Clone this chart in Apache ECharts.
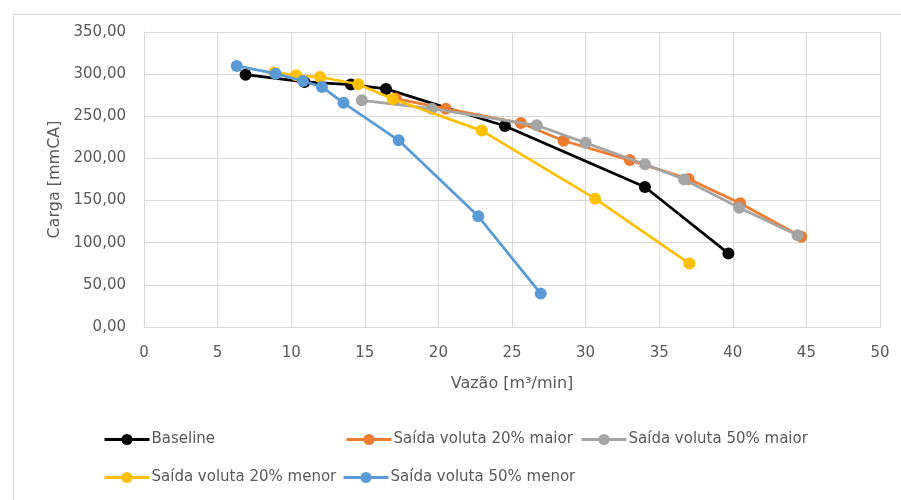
<!DOCTYPE html>
<html>
<head>
<meta charset="utf-8">
<script src="https://cdn.jsdelivr.net/npm/echarts@6/dist/echarts.min.js"></script>
<style>
  html, body { margin: 0; padding: 0; background: #ffffff; }
  #chart { width: 901px; height: 500px; }
</style>
</head>
<body>
<div id="chart"></div>
<script>
// Curvas de carga x vazão para as variantes da voluta ([vazão m³/min, carga mmCA])
const seriesNames = [
  'Baseline',
  'Saída voluta 20% maior',
  'Saída voluta 50% maior',
  'Saída voluta 20% menor',
  'Saída voluta 50% menor'
];
const baseline = [[6.9, 299.4], [10.9, 290.7], [14.06, 287.6], [16.44, 282.5], [24.52, 238.5], [34.03, 166.1], [39.7, 87.3]];
const voluta20Maior = [[17.1, 271.0], [20.5, 259.0], [25.6, 242.0], [28.5, 221.0], [33.0, 198.0], [37.0, 175.5], [40.5, 146.8], [44.65, 107.0]];
const voluta50Maior = [[14.8, 269.0], [19.55, 259.0], [26.68, 239.3], [30.0, 218.5], [34.03, 193.0], [36.7, 175.0], [40.44, 141.5], [44.4, 108.8]];
const voluta20Menor = [[8.85, 302.0], [10.33, 298.6], [11.96, 296.6], [14.56, 288.0], [16.9, 270.5], [22.94, 233.0], [30.64, 152.3], [37.05, 75.2]];
const voluta50Menor = [[6.3, 309.7], [8.94, 300.6], [10.8, 291.9], [12.09, 284.8], [13.55, 266.0], [17.3, 221.5], [22.71, 131.3], [26.95, 39.6]];

const seriesData = [baseline, voluta20Maior, voluta50Maior, voluta20Menor, voluta50Menor];
const seriesColors = ['#000000', '#ED7D31', '#A5A5A5', '#FFC000', '#5B9BD5'];

const xTicks = { min: 0, max: 50, interval: 5 };
const yTicks = { min: 0, max: 350, interval: 50 };

const fontFamily = '"DejaVu Sans", sans-serif';
const textColor = '#595959';
const gridColor = '#d9d9d9';

const chart = echarts.init(document.getElementById('chart'), null, { renderer: 'canvas' });

// one legend block per entry so each sits in its own column
const legendSlots = [
  { left: 103, top: 432 },
  { left: 345, top: 432 },
  { left: 580, top: 432 },
  { left: 103, top: 470 },
  { left: 342, top: 470 }
];

const option = {
  backgroundColor: '#ffffff',
  animation: false,
  graphic: [{
    type: 'rect',
    left: 11, top: 12,
    shape: { width: 900, height: 500 },
    style: { fill: 'none', stroke: gridColor, lineWidth: 1 },
    silent: true
  }],
  grid: { left: 144, right: 21, top: 32, bottom: 173, containLabel: false },
  legend: legendSlots.map((slot, i) => ({
    data: [seriesNames[i]],
    left: slot.left,
    top: slot.top,
    itemWidth: 45,
    itemHeight: 14,
    itemGap: 0,
    padding: 0,
    lineStyle: { width: 3 },
    textStyle: { fontFamily: fontFamily, fontSize: 15, color: textColor, padding: [0, 0, 0, -3] }
  })),
  xAxis: {
    type: 'value',
    min: xTicks.min, max: xTicks.max, interval: xTicks.interval,
    name: 'Vazão [m³/min]',
    nameLocation: 'middle',
    nameGap: 49,
    nameTextStyle: { fontFamily: fontFamily, fontSize: 16, color: textColor },
    axisLine: { show: true, lineStyle: { color: gridColor, width: 1 } },
    axisTick: { show: false },
    axisLabel: { fontFamily: fontFamily, fontSize: 15, color: textColor, margin: 19 },
    splitLine: { show: true, lineStyle: { color: gridColor, width: 1 } }
  },
  yAxis: {
    type: 'value',
    min: yTicks.min, max: yTicks.max, interval: yTicks.interval,
    name: 'Carga [mmCA]',
    nameLocation: 'middle',
    nameGap: 80,
    nameRotate: 90,
    nameTextStyle: { fontFamily: fontFamily, fontSize: 16, color: textColor },
    axisLine: { show: true, lineStyle: { color: gridColor, width: 1 } },
    axisTick: { show: false },
    axisLabel: {
      fontFamily: fontFamily, fontSize: 15, color: textColor, margin: 18,
      formatter: v => v.toFixed(2).replace('.', ',')
    },
    splitLine: { show: true, lineStyle: { color: gridColor, width: 1 } }
  },
  series: seriesNames.map((name, i) => ({
    name: name,
    type: 'line',
    data: seriesData[i],
    color: seriesColors[i],
    symbol: 'circle',
    symbolSize: 12,
    showAllSymbol: true,
    lineStyle: { width: 2.75, color: seriesColors[i] },
    itemStyle: { color: seriesColors[i] },
    z: 2 + i
  }))
};

chart.setOption(option);
</script>
</body>
</html>
